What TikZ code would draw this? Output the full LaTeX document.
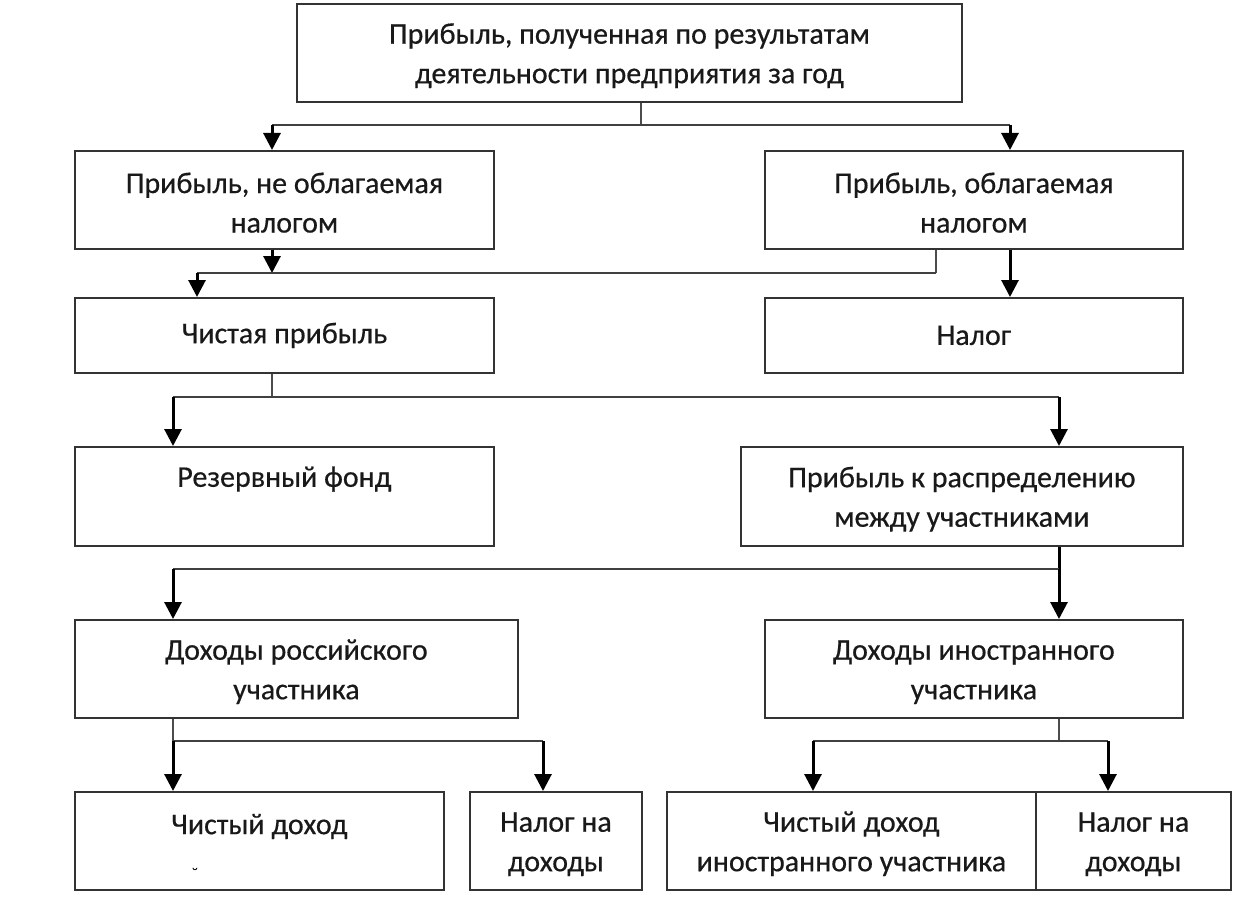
\documentclass[tikz,border=0pt]{standalone}
\usepackage{fontspec}
\setmainfont{Carlito}
\newfontfamily\boxfont{Carlito}[FakeBold=0.5]
\newcommand\tstrut{\rule{0pt}{26pt}}
\usetikzlibrary{arrows.meta}
\begin{document}
\begin{tikzpicture}[x=1pt,y=-1pt,
  box/.style={draw=black!80, line width=1.8pt, anchor=north west, inner sep=0pt,
    align=center, font=\boxfont\fontsize{30}{39.5}\selectfont, text=black!90},
  arr/.style={draw=black, line width=3pt, -{Triangle[length=17pt,width=17pt]}},
  bar/.style={draw=black!75, line width=2pt},
  thinline/.style={draw=black!70, line width=1.4pt}]
\useasboundingbox (0,0) rectangle (1259,915);

% boxes
\node[box, minimum width=665pt, minimum height=98pt] (b1) at (296,3)
  {\tstrut Прибыль, полученная по результатам\\деятельности предприятия за год};
\node[box, minimum width=419pt, minimum height=98pt] (b2) at (74,150)
  {\tstrut Прибыль, не облагаемая\\налогом};
\node[box, minimum width=418pt, minimum height=98pt] (b3) at (764,150)
  {\tstrut Прибыль, облагаемая\\налогом};
\node[box, minimum width=419pt, minimum height=75pt] (b4) at (74,297)
  {Чистая прибыль};
\node[box, minimum width=418pt, minimum height=75pt] (b5) at (764,297)
  {Налог};
\node[box, minimum width=419pt, minimum height=99pt] (b6) at (74,446)
  {Резервный фонд\\\mbox{}};
\node[box, minimum width=442pt, minimum height=99pt] (b7) at (740,446)
  {\tstrut Прибыль к распределению\\между участниками};
\node[box, minimum width=443pt, minimum height=98pt] (b8) at (74,619)
  {\tstrut Доходы российского\\участника};
\node[box, minimum width=418pt, minimum height=98pt] (b9) at (764,619)
  {\tstrut Доходы иностранного\\участника};
\node[box, minimum width=369pt, minimum height=98pt] (b10) at (74,791)
  {\tstrut Чистый доход\\\mbox{}};
\node[box, minimum width=172pt, minimum height=98pt] (b11) at (469,791)
  {\tstrut Налог на\\доходы};
\node[box, minimum width=369pt, minimum height=98pt] (b12) at (666,791)
  {\tstrut Чистый доход\\иностранного участника};
\node[box, minimum width=195pt, minimum height=98pt] (b13) at (1035,791)
  {\tstrut Налог на\\доходы};
\node[font=\fontsize{18}{18}\selectfont, inner sep=0pt] (br) at (195,874) {˘};

% junction coordinates
\coordinate (h1M) at (641,125);
\coordinate (h1L) at (272,125);
\coordinate (h1R) at (1010,125);
\coordinate (h2A) at (272,273);
\coordinate (h2L) at (197,273);
\coordinate (h2R) at (936,273);
\coordinate (h3M) at (272,397);
\coordinate (h3L) at (173,397);
\coordinate (h3R) at (1059,397);
\coordinate (h4L) at (173,569);
\coordinate (h4R) at (1059,569);
\coordinate (h5L) at (173,741);
\coordinate (h5R) at (543,741);
\coordinate (h6M) at (1059,741);
\coordinate (h6L) at (813,741);
\coordinate (h6R) at (1108,741);

% level 1
\draw[thinline] (b1.south -| h1M) -- (h1M);
\draw[bar] (h1L) -- (h1R);
\draw[arr] (h1L) -- (b2.north -| h1L);
\draw[arr] (h1R) -- (b3.north -| h1R);
% level 2
\draw[arr] (b2.south -| h2A) -- (h2A);
\draw[thinline] (b3.south -| h2R) -- (h2R);
\draw[bar] (h2L) -- (h2R);
\draw[arr] (h2L) -- (b4.north -| h2L);
\draw[arr] (b3.south -| h1R) -- (b5.north -| h1R);
% level 3
\draw[thinline] (b4.south -| h3M) -- (h3M);
\draw[bar] (h3L) -- (h3R);
\draw[arr] (h3L) -- (b6.north -| h3L);
\draw[arr] (h3R) -- (b7.north -| h3R);
% level 4
\draw[arr, -] (b7.south -| h4R) -- (h4R);
\draw[bar] (h4R) -- (h4L);
\draw[arr] (h4L) -- (b8.north -| h4L);
\draw[arr] (h4R) -- (b9.north -| h4R);
% level 5
\draw[thinline] (b8.south -| h5L) -- (h5L);
\draw[bar] (h5L) -- (h5R);
\draw[arr] (h5L) -- (b10.north -| h5L);
\draw[arr] (h5R) -- (b11.north -| h5R);
% level 6
\draw[thinline] (b9.south -| h6M) -- (h6M);
\draw[bar] (h6L) -- (h6R);
\draw[arr] (h6L) -- (b12.north -| h6L);
\draw[arr] (h6R) -- (b13.north -| h6R);
\end{tikzpicture}
\end{document}
